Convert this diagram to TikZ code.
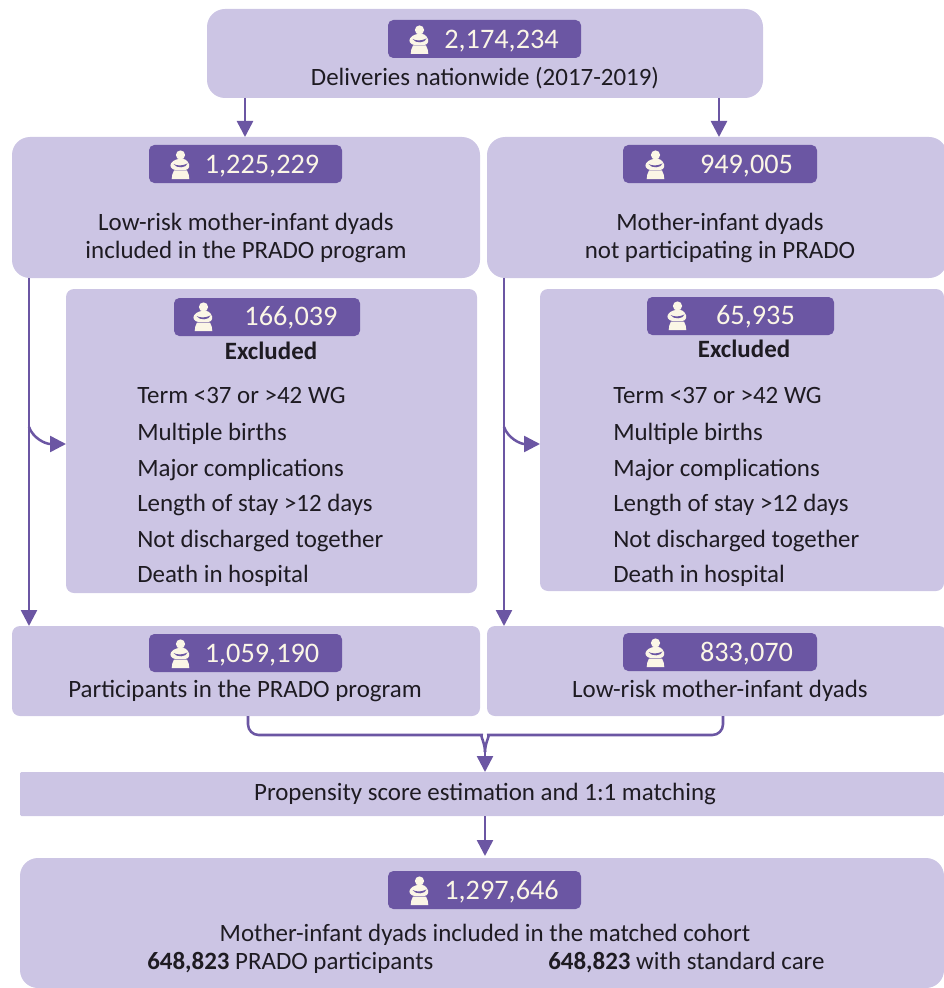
\documentclass[tikz,border=0pt]{standalone}
\usepackage{fontspec}
\setmainfont{Carlito}
\usetikzlibrary{arrows.meta,calc}
\definecolor{boxfill}{HTML}{CCC5E4}
\definecolor{badgefill}{HTML}{6B56A3}
\definecolor{momcol}{HTML}{FBF6E6}
\definecolor{inkcol}{HTML}{1E1B22}
\tikzset{
  x=0.75pt,y=-0.75pt,
  panel/.style={fill=boxfill,draw=none,rounded corners=13.5pt,inner sep=0pt,outer sep=0pt},
  softpanel/.style={fill=boxfill,draw=none,rounded corners=6pt,inner sep=0pt,outer sep=0pt},
  flatpanel/.style={fill=boxfill,draw=none,rounded corners=1pt,inner sep=0pt,outer sep=0pt},
  badge/.style={fill=badgefill,draw=none,rounded corners=4pt,inner sep=0pt,outer sep=0pt},
  num/.style={text=momcol,font=\fontsize{21.2pt}{24pt}\selectfont,inner sep=0pt,anchor=mid,yshift=-4.6pt},
  txt/.style={text=inkcol,font=\fontsize{18.7pt}{22pt}\selectfont,inner sep=0pt,anchor=mid,yshift=-4pt},
  lst/.style={text=inkcol,font=\fontsize{18.7pt}{22pt}\selectfont,inner sep=0pt,anchor=mid west,yshift=-4pt},
  bld/.style={text=inkcol,font=\fontsize{18.7pt}{22pt}\selectfont\bfseries,inner sep=0pt,anchor=mid,yshift=-4pt},
  link/.style={draw=badgefill,line width=1.9pt,-{Triangle[length=12pt,width=12pt]}},
  plain/.style={draw=badgefill,line width=1.9pt,rounded corners=8pt},
  mom/.pic={
    \fill[momcol] (0,-9) circle[radius=4.6];
    \fill[momcol] (-4,-4.5) .. controls (0,-6) and (5,-5.5) .. (7,-2.5) .. controls (10,1) and (9,5.5) .. (5,6) -- (-5,6) .. controls (-9.5,5.5) and (-11,2) .. (-9.5,-0.5) .. controls (-8.5,-2.5) and (-6,-3.8) .. (-4,-4.5) -- cycle;
    \fill[badgefill] (-7,0) .. controls (-3,2) and (2,2) .. (7,-0.5) .. controls (6,4) and (-4,5) .. (-7,0) -- cycle;
    \fill[momcol] (-6.5,6.5) -- (6.5,6.5) .. controls (8,9) and (8.8,12) .. (8.8,15) -- (-8.8,15) .. controls (-8.8,12) and (-8,9) .. (-6.5,6.5) -- cycle;
  }
}
\begin{document}
\begin{tikzpicture}
\useasboundingbox (0,0) rectangle (944,988);
% panels
\node[panel,minimum width=556*0.75pt,minimum height=89*0.75pt] (top) at (485,53.5) {};
\node[panel,minimum width=468*0.75pt,minimum height=141*0.75pt] (lone) at (246,207.5) {};
\node[panel,minimum width=460*0.75pt,minimum height=141*0.75pt] (rone) at (717,207.5) {};
\node[softpanel,minimum width=411*0.75pt,minimum height=304*0.75pt] (lex) at (271.5,441) {};
\node[softpanel,minimum width=404*0.75pt,minimum height=302*0.75pt] (rex) at (742,440) {};
\node[softpanel,minimum width=468*0.75pt,minimum height=90*0.75pt] (ltwo) at (246,671) {};
\node[softpanel,minimum width=460*0.75pt,minimum height=90*0.75pt] (rtwo) at (717,671) {};
\node[flatpanel,minimum width=924*0.75pt,minimum height=44*0.75pt] (prop) at (482,794) {};
\node[panel,minimum width=924*0.75pt,minimum height=130*0.75pt] (bot) at (482,923) {};
% badges
\node[badge,minimum width=193*0.75pt,minimum height=38*0.75pt] (btop) at (484.5,39) {};
\node[badge,minimum width=193*0.75pt,minimum height=38*0.75pt] (blone) at (245.5,164) {};
\node[badge,minimum width=194*0.75pt,minimum height=38*0.75pt] (brone) at (720,164) {};
\node[badge,minimum width=186*0.75pt,minimum height=38*0.75pt] (blex) at (267,317) {};
\node[badge,minimum width=187*0.75pt,minimum height=38*0.75pt] (brex) at (740.5,316) {};
\node[badge,minimum width=193*0.75pt,minimum height=38*0.75pt] (bltwo) at (245.5,653) {};
\node[badge,minimum width=194*0.75pt,minimum height=38*0.75pt] (brtwo) at (720,652) {};
\node[badge,minimum width=193*0.75pt,minimum height=38*0.75pt] (bbot) at (484.5,890) {};
% icons
\pic at (419.5,39) {mom};
\pic at (180.5,164) {mom};
\pic at (655.5,164) {mom};
\pic at (203.5,316) {mom};
\pic at (677.5,315) {mom};
\pic at (180.5,653) {mom};
\pic at (655.5,652) {mom};
\pic at (419.5,890) {mom};
% numbers
\node[num] (ntop) at (501.5,39) {2,174,234};
\node[num] (nlone) at (262,164) {1,225,229};
\node[num] (nrone) at (746.5,164) {949,005};
\node[num] (nlex) at (291,316) {166,039};
\node[num] (nrex) at (755.5,315) {65,935};
\node[num] (nltwo) at (262,653) {1,059,190};
\node[num] (nrtwo) at (746.5,652) {833,070};
\node[num] (nbot) at (501.5,890) {1,297,646};
% texts
\node[txt] (ttop) at (485,77) {Deliveries nationwide (2017-2019)};
\node[txt] (tla) at (246,222) {Low-risk mother-infant dyads};
\node[txt] (tlb) at (246,250) {included in the PRADO program};
\node[txt] (tra) at (720,222) {Mother-infant dyads};
\node[txt] (trb) at (720,250) {not participating in PRADO};
\node[bld] (xl) at (271,351) {Excluded};
\node[bld] (xr) at (744,349) {Excluded};
\foreach \nm/\xx/\yy/\lab in {
  la/137/395/{Term <37 or >42 WG},
  lb/137/432/{Multiple births},
  lc/137/468/{Major complications},
  ld/137/503/{Length of stay >12 days},
  le/137/539/{Not discharged together},
  lf/137/574/{Death in hospital},
  ra/613/395/{Term <37 or >42 WG},
  rb/613/432/{Multiple births},
  rc/613/468/{Major complications},
  rd/613/503/{Length of stay >12 days},
  re/613/539/{Not discharged together},
  rf/613/574/{Death in hospital}}
  {\node[lst] (\nm) at (\xx,\yy) {\lab};}
\node[txt] (tltwo) at (245,689) {Participants in the PRADO program};
\node[txt] (trtwo) at (720,689) {Low-risk mother-infant dyads};
\node[txt] (tprop) at (485,792) {Propensity score estimation and 1:1 matching};
\node[txt] (tbot) at (485,933) {Mother-infant dyads included in the matched cohort};
\node[lst] (tbl) at (147,961) {\textbf{648,823} PRADO participants};
\node[lst] (tbr) at (548,961) {\textbf{648,823} with standard care};
% coordinates
\coordinate (tl) at (245,98);
\coordinate (tr) at (719,98);
\coordinate (ll) at (29,278);
\coordinate (rl) at (504,278);
\coordinate (lm) at (29,427);
\coordinate (rm) at (504,427);
\coordinate (ml) at (248,716);
\coordinate (mr) at (723,716);
\coordinate (mc) at (485,752);
% connectors
\draw[link] (tl) -- (tl |- lone.north);
\draw[link] (tr) -- (tr |- rone.north);
\draw[link] (ll) -- (ll |- ltwo.north);
\draw[link] (rl) -- (rl |- rtwo.north);
\draw[link] (lm) .. controls (33,438) and (45,444) .. (66,444);
\draw[link] (rm) .. controls (508,438) and (520,444) .. (540,444);
\draw[plain] (ml) -- (248,735) -- (471,735) .. controls (480,735) and (485,743) .. (mc);
\draw[plain] (mr) -- (723,735) -- (499,735) .. controls (490,735) and (485,743) .. (mc);
\draw[link] (mc) -- (mc |- prop.north);
\draw[link] (prop.south -| mc) -- (485,856);
\end{tikzpicture}
\end{document}
